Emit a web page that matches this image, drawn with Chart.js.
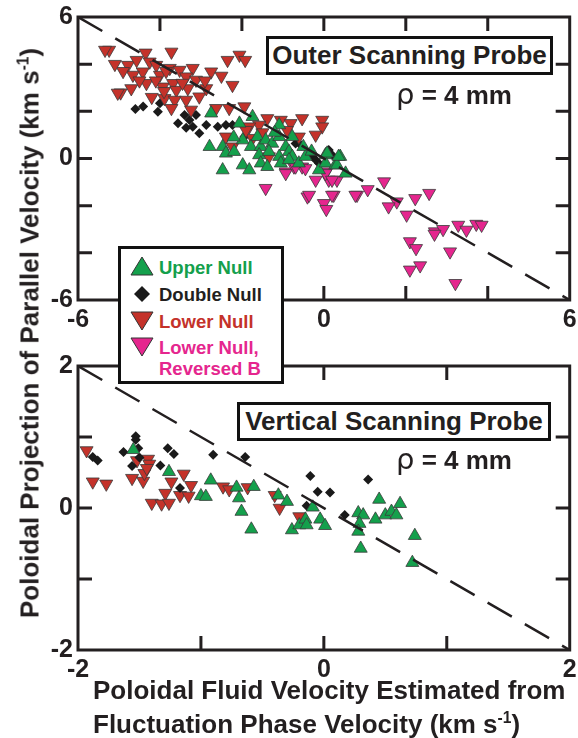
<!DOCTYPE html>
<html>
<head>
<meta charset="utf-8">
<script src="https://cdn.jsdelivr.net/npm/chart.js@4/dist/chart.umd.min.js"></script>
<style>
  html, body { margin:0; padding:0; background:#fff; }
  body { width:578px; height:738px; position:relative; overflow:hidden;
         font-family:"Liberation Sans", Arial, sans-serif; color:#231f20; }
  canvas { position:absolute; left:0; }
  .lbl { position:absolute; font-weight:bold; white-space:nowrap; }
  .boxed { position:absolute; border:3px solid #111; background:#fff; box-sizing:border-box;
           font-weight:bold; font-size:26px; text-align:center; z-index:5; }
  .rho { position:absolute; font-weight:bold; font-size:26px; z-index:5; }
  .rho i { font-style:normal; font-weight:normal; font-size:29px; font-family:"DejaVu Sans", sans-serif; }
  #legend { position:absolute; left:118px; top:246px; width:166px; height:138px;
            border:3px solid #111; background:#fff; box-sizing:border-box; z-index:10;
            font-weight:bold; font-size:18.5px; }
  #legend div { position:absolute; left:38px; white-space:nowrap; line-height:21px; }
  #legend svg { position:absolute; left:8px; }
  sup { font-size:0.6em; }
</style>
</head>
<body>
<canvas id="outer" width="578" height="340" style="top:0"></canvas>
<canvas id="vertical" width="578" height="350" style="top:340px"></canvas>

<div class="boxed" style="left:266px;top:36px;width:287px;height:39px;line-height:33px;">Outer Scanning Probe</div>
<div class="rho" style="left:396px;top:77px;"><i>ρ</i> = 4 mm</div>
<div class="boxed" style="left:237px;top:402px;width:314px;height:39px;line-height:33px;">Vertical Scanning Probe</div>
<div class="rho" style="left:396px;top:442px;"><i>ρ</i> = 4 mm</div>

<div id="legend">
  <svg width="26" height="22" style="top:6px"><polygon points="13,2 24,20 2,20" fill="#14a04c" stroke="#333" stroke-width="1"/></svg>
  <div style="top:8px;color:#14a04c">Upper Null</div>
  <svg width="26" height="22" style="top:34px"><polygon points="13,3 21,11 13,19 5,11" fill="#1a1a1a"/></svg>
  <div style="top:35px;color:#231f20">Double Null</div>
  <svg width="26" height="22" style="top:61px"><polygon points="2,2 24,2 13,20" fill="#c4322a" stroke="#333" stroke-width="1"/></svg>
  <div style="top:62px;color:#c4322a">Lower Null</div>
  <svg width="26" height="22" style="top:87px"><polygon points="2,2 24,2 13,20" fill="#e5268e" stroke="#333" stroke-width="1"/></svg>
  <div style="top:88px;color:#e5268e">Lower Null,<br>Reversed B</div>
</div>

<div class="lbl" style="left:30px;top:333px;font-size:26px;transform:translate(-50%,-50%) rotate(-90deg);">Poloidal Projection of Parallel Velocity (km s<sup>-1</sup>)</div>
<div class="lbl" style="left:93px;top:676px;font-size:26px;line-height:28px;">Poloidal Fluid Velocity Estimated from<br>Fluctuation Phase Velocity (km s<sup>-1</sup>)</div>

<script>
/* ── DATA ─────────────────────────────────────────────────── */
// outer scanning probe, [x, y] in km/s
const outerUpper = [
  [-2.75,1.92],[-2.06,1.49],[-1.74,1.77],[-1.09,1.42],[-0.77,0.92],[-2.79,0.5],[-2.47,0.5],
  [-2.39,0.22],[-2.19,0.29],[-1.98,0.78],[-1.78,0.5],[-1.62,0.92],[-1.54,0.5],[-1.42,0.78],
  [-1.26,0.64],[-1.09,0.92],[-0.93,0.5],[-1.58,0.15],[-1.34,0.29],[-1.09,0.08],[-0.85,0.29],
  [-0.77,0.08],[-1.98,-0.28],[-2.47,-0.49],[-1.82,-0.49],[-1.54,-0.2],[-1.38,-0.35],[-1.05,-0.2],
  [-0.85,-0.06],[-0.61,-0.2],[-0.45,0.08],[-0.12,-0.49],[0.04,0.15],[0.04,-0.2],[0.28,-0.28],
  [0.4,0.08],[0.53,-0.63],[0.32,-0.28],[0.36,0.08],[0.08,0.22],[-1.2,1.1],[-0.5,0.5],
  [-0.3,0.3],[-2.2,0.9]
];
const outerDouble = [
  [-4.41,2.2],[-4.05,1.98],[-4.0,2.34],[-3.56,1.49],[-3.4,1.84],[-3.28,1.63],[-3.12,1.84],
  [-3.04,1.07],[-2.87,1.42],[-2.59,1.35],[-2.39,1.42],[-2.23,1.42],[-1.94,0.92],[-0.69,0.64],
  [-0.28,0.08],[0.12,0.36],[0.2,0.15],[-0.12,-0.2],[-3.2,1.35],[-4.6,2.1],[-3.36,1.3],
  [-0.55,0.55],[-0.2,-0.05]
];
const outerLower = [
  [-5.24,4.6],[-4.35,4.48],[-3.72,4.52],[-2.35,4.17],[-2.06,4.39],[-1.92,4.17],[-4.78,3.96],
  [-4.57,4.17],[-4.25,4.1],[-4.09,3.96],[-4.42,3.68],[-4.66,3.54],[-4.0,3.54],[-3.76,3.83],
  [-3.52,3.75],[-3.2,3.83],[-2.75,3.68],[-3.36,3.47],[-3.12,3.33],[-4.33,3.19],[-4.7,2.97],
  [-4.96,2.79],[-3.93,3.04],[-3.68,3.19],[-3.6,2.9],[-3.32,2.97],[-3.04,2.62],[-3.89,2.55],
  [-3.64,2.48],[-3.36,2.48],[-2.87,2.97],[-2.23,3.11],[-3.72,2.13],[-3.24,2.06],[-2.63,2.13],
  [-2.31,2.13],[-1.94,2.2],[-1.38,1.7],[-1.05,1.63],[-0.81,1.49],[-0.53,1.7],[-0.04,1.63],
  [-0.04,1.35],[-0.2,1.0],[-0.61,0.92],[-1.58,1.42],[-1.82,1.35],[-2.39,0.92],[-2.23,0.5],
  [-1.74,0.86],[-1.34,0.08],[-5.34,4.6],[-5.03,2.78],[-4.5,3.3],[-4.1,3.3],[-3.85,3.7],
  [-3.45,3.2],[-3.9,2.85],[-4.2,2.6],[-2.9,3.3],[-2.5,3.5],[-1.9,1.2],[-1.5,1.1],[-0.9,1.2],
  [-4.9,3.7],[-5.1,4.0]
];
const outerReversed = [
  [-0.93,-0.56],[-0.73,-0.35],[-0.53,-0.35],[-0.2,-0.91],[0.12,-0.91],[0.32,-0.91],[0.06,-0.56],
  [-1.42,-1.26],[-0.4,-1.62],[0,-1.9],[0.06,-2.15],[0.24,-1.55],[0.81,-1.55],[1.07,-1.31],
  [1.47,-0.98],[1.78,-1.83],[1.58,-2.04],[2.02,-2.39],[2.23,-1.69],[2.57,-1.47],[2.1,-3.52],
  [2.25,-3.81],[2.1,-4.72],[2.35,-4.54],[2.71,-3.1],[2.91,-3.0],[3.28,-2.82],[3.48,-3.03],
  [3.72,-2.78],[3.85,-2.82],[3.08,-3.95],[3.21,-5.29],[-0.93,-0.63],[-0.69,-0.35],[-0.45,-0.42],
  [0.04,-0.63],[0.2,-0.91],[-0.36,-1.55],[0.2,-1.55],[0.77,-1.55],[2.7,-3.2]
];

// vertical scanning probe
const vertUpper = [
  [-1.55,0.82],[-1.26,0.51],[-0.92,0.39],[-1.0,0.17],[-0.96,0.16],[-0.71,0.29],[-0.69,0.14],
  [-0.67,-0.05],[-0.57,0.3],[-0.59,-0.3],[-0.37,0.18],[-0.3,0.09],[-0.26,-0.31],[-0.2,-0.24],
  [-0.15,-0.16],[-0.14,-0.24],[-0.09,0.01],[-0.03,-0.16],[0.01,-0.25],[0.28,-0.07],[0.32,-0.1],
  [0.29,-0.22],[0.28,-0.33],[0.3,-0.57],[0.42,-0.16],[0.45,0.12],[0.5,-0.1],[0.55,-0.05],
  [0.59,-0.1],[0.62,0.06],[0.74,-0.39],[0.72,-0.77]
];
const vertDouble = [
  [-1.53,1.01],[-1.53,0.96],[-1.63,0.79],[-1.51,0.84],[-1.5,0.71],[-1.56,0.59],[-1.88,0.72],
  [-1.84,0.67],[-1.27,0.84],[-1.22,0.76],[-1.33,0.6],[-1.17,0.28],[-0.9,0.75],[-0.64,0.72],
  [-0.11,0.45],[-0.05,0.23],[0.05,0.22],[-0.14,0.03],[0.17,-0.1],[0.36,0.4]
];
const vertLower = [
  [-1.93,0.81],[-1.88,0.37],[-1.77,0.34],[-1.56,0.42],[-1.47,0.38],[-1.52,0.67],[-1.43,0.69],
  [-1.42,0.62],[-1.46,0.49],[-1.44,0.56],[-1.24,0.37],[-1.14,0.48],[-1.08,0.32],[-1.29,0.21],
  [-1.17,0.18],[-1.1,0.17],[-1.4,0.07],[-1.32,0.06],[-1.26,0.07],[-0.82,0.3],[-0.77,0.26],
  [-0.62,0.29],[-0.4,0.18],[-0.36,0.0],[-0.2,-0.12]
];

// axis ranges and tick spacing
const outerRange = [-6, 6], outerStep = 2;
const vertRange  = [-2, 2], vertStep  = 1;

/* ── STYLE ────────────────────────────────────────────────── */
const GREEN = '#14a04c', RED = '#c4322a', PINK = '#e5268e', INK = '#231f20';
const TICK_FONT = { family:'Liberation Sans', size:25, weight:'bold' };

const pts = arr => arr.map(([x, y]) => ({ x, y }));

/* ── FRAME + INWARD TICKS ─────────────────────────────────── */
const framePlugin = {
  id: 'frame',
  afterDatasetsDraw(chart) {
    const { ctx, chartArea: a, scales: { x, y } } = chart;
    const L = 14;
    ctx.save();
    ctx.strokeStyle = INK;
    ctx.lineWidth = 3;
    ctx.beginPath();
    x.ticks.forEach(t => {
      if (t.value === x.min || t.value === x.max) return;
      const p = x.getPixelForValue(t.value);
      ctx.moveTo(p, a.bottom); ctx.lineTo(p, a.bottom - L);
      ctx.moveTo(p, a.top);    ctx.lineTo(p, a.top + L);
    });
    y.ticks.forEach(t => {
      if (t.value === y.min || t.value === y.max) return;
      const p = y.getPixelForValue(t.value);
      ctx.moveTo(a.left, p);  ctx.lineTo(a.left + L, p);
      ctx.moveTo(a.right, p); ctx.lineTo(a.right - L, p);
    });
    ctx.stroke();
    ctx.strokeRect(a.left, a.top, a.right - a.left, a.bottom - a.top);
    ctx.restore();
  }
};

function markerSet(label, data, shape, color, radius, rotation) {
  return {
    label, data: pts(data), pointStyle: shape, rotation: rotation || 0,
    pointRadius: radius, pointBackgroundColor: color,
    pointBorderColor: shape === 'rectRot' ? color : '#3a3a3a',
    pointBorderWidth: shape === 'rectRot' ? 0 : 0.8, showLine: false
  };
}

function panel(id, range, step, sets, padTop) {
  const [lo, hi] = range;
  const onlyEnds = v => (v === lo || v === 0 || v === hi) ? String(v) : '';
  new Chart(document.getElementById(id), {
    type: 'scatter',
    data: {
      datasets: [
        { type:'line', data:[{ x:lo, y:hi }, { x:hi, y:lo }], borderColor:INK, borderWidth:2.5,
          borderDash:[28, 15], pointRadius:0, fill:false },
        ...sets
      ]
    },
    options: {
      responsive: false, animation: false,
      layout: { padding: { top: padTop, left: 0, right: 6, bottom: 0 } },
      plugins: { legend: { display:false }, tooltip: { enabled:false } },
      scales: {
        x: {
          min: lo, max: hi,
          grid: { display:false, drawTicks:false }, border: { display:false },
          ticks: { stepSize: step, autoSkip:false, maxRotation:0, padding:5,
                   color: INK, font: TICK_FONT, callback: onlyEnds },
          afterFit(s) { s.height = 40; s.paddingLeft = 0; s.paddingRight = 0; }
        },
        y: {
          min: lo, max: hi,
          grid: { display:false, drawTicks:false }, border: { display:false },
          ticks: { stepSize: step, autoSkip:false, padding:5,
                   color: INK, font: TICK_FONT, callback: onlyEnds },
          afterFit(s) { s.width = 78; s.paddingTop = 0; s.paddingBottom = 0; }
        }
      }
    },
    plugins: [framePlugin]
  });
}

panel('outer', outerRange, outerStep, [
  markerSet('Upper Null', outerUpper, 'triangle', GREEN, 7.5),
  markerSet('Lower Null', outerLower, 'triangle', RED, 7.5, 180),
  markerSet('Double Null', outerDouble, 'rectRot', '#1a1a1a', 5),
  markerSet('Lower Null, Reversed B', outerReversed, 'triangle', PINK, 7.5, 180)
], 17);

panel('vertical', vertRange, vertStep, [
  markerSet('Upper Null', vertUpper, 'triangle', GREEN, 7.5),
  markerSet('Double Null', vertDouble, 'rectRot', '#1a1a1a', 5),
  markerSet('Lower Null', vertLower, 'triangle', RED, 7.5, 180)
], 26);
</script>
</body>
</html>
